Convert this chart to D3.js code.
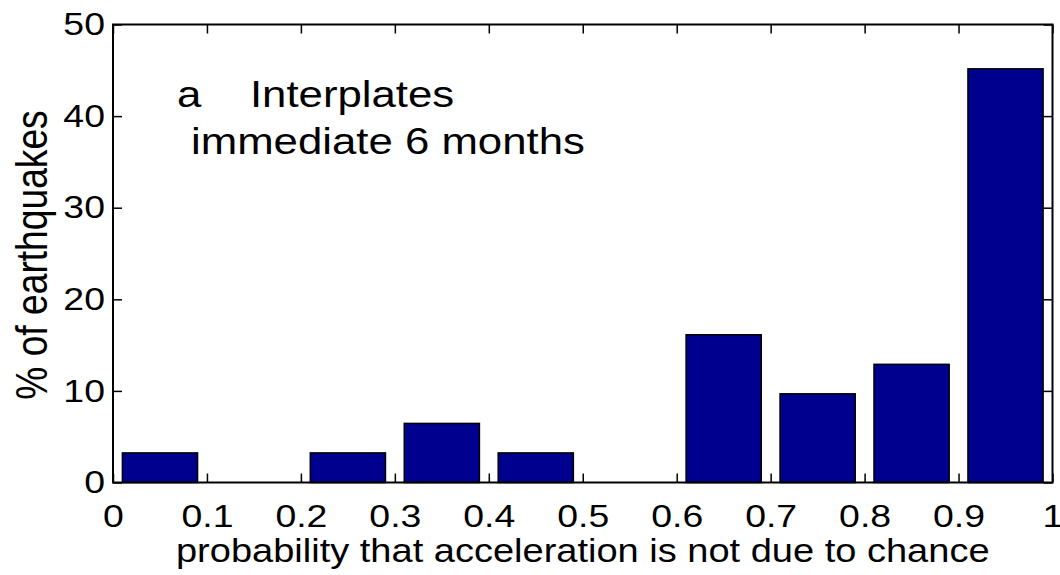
<!DOCTYPE html>
<html>
<head>
<meta charset="utf-8">
<script src="https://cdn.jsdelivr.net/npm/d3@7"></script>
<style>
  html, body { margin: 0; padding: 0; background: #fff; }
  svg { display: block; }
  text { font-family: "Liberation Sans", Arial, Helvetica, sans-serif; fill: #000; }
</style>
</head>
<body>
<svg id="chart" width="1060" height="575"></svg>
<script>
// Histogram bins (left edges) and percentage of earthquakes per bin
const binStarts = [0, 0.1, 0.2, 0.3, 0.4, 0.5, 0.6, 0.7, 0.8, 0.9];
const percents  = [3.23, 0, 3.23, 6.45, 3.23, 0, 16.13, 9.68, 12.90, 45.16];
const xTicks = [0, 0.1, 0.2, 0.3, 0.4, 0.5, 0.6, 0.7, 0.8, 0.9, 1];
const xTickLabels = ["0", "0.1", "0.2", "0.3", "0.4", "0.5", "0.6", "0.7", "0.8", "0.9", "1"];
const yTicks = [0, 10, 20, 30, 40, 50];
const yTickLabels = ["0", "10", "20", "30", "40", "50"];
const annotationLines = ["a    Interplates", "immediate 6 months"];
const xTitle = "probability that acceleration is not due to chance";
const yTitle = "% of earthquakes";

const binWidth = 0.1;
const barFrac = 0.8;

const svg = d3.select("#chart");
const plotLeft = 113, plotRight = 1052.5, plotTop = 24.5, plotBottom = 482.5;

const x = d3.scaleLinear().domain([0, 1]).range([plotLeft, plotRight]);
const y = d3.scaleLinear().domain([0, 50]).range([plotBottom, plotTop]);

const tickLen = 9;
const tickFont = 32;
const xTitleFont = 32.5;
const yTitleFont = 37.2;
const noteFont = 37.4;
const sx = 1.17;          // wide glyph aspect of the figure's typeface

// Bars
svg.append("g")
  .selectAll("rect")
  .data(binStarts.map((s, i) => ({ s, v: percents[i] })).filter(d => d.v > 0))
  .join("rect")
  .attr("x", d => x(d.s + binWidth * (1 - barFrac) / 2))
  .attr("width", d => x(d.s + binWidth * (1 + barFrac) / 2) - x(d.s + binWidth * (1 - barFrac) / 2))
  .attr("y", d => y(d.v))
  .attr("height", d => y(0) - y(d.v))
  .attr("fill", "#00008f")
  .attr("stroke", "#000")
  .attr("stroke-width", 1.5);

// Axes (ticks pointing inward, mirrored on top and right)
const axisStyle = g => {
  g.select(".domain").remove();
  g.selectAll(".tick line").attr("stroke", "#000").attr("stroke-width", 1.5);
};

svg.append("g")
  .attr("transform", `translate(0,${plotBottom})`)
  .call(d3.axisBottom(x).tickValues(xTicks).tickSize(-tickLen)
    .tickFormat((d, i) => xTickLabels[i]))
  .call(axisStyle)
  .call(g => g.selectAll(".tick text")
    .attr("font-size", tickFont)
    .attr("font-family", "Liberation Sans, Arial, sans-serif")
    .attr("y", 0).attr("dy", null)
    .attr("transform", `translate(0,${526.5 - plotBottom}) scale(${sx},1)`));

svg.append("g")
  .attr("transform", `translate(0,${plotTop})`)
  .call(d3.axisTop(x).tickValues(xTicks).tickSize(-tickLen).tickFormat(""))
  .call(axisStyle);

svg.append("g")
  .attr("transform", `translate(${plotLeft},0)`)
  .call(d3.axisLeft(y).tickValues(yTicks).tickSize(-tickLen)
    .tickFormat((d, i) => yTickLabels[i]))
  .call(axisStyle)
  .call(g => g.selectAll(".tick text")
    .attr("font-size", tickFont)
    .attr("font-family", "Liberation Sans, Arial, sans-serif")
    .attr("x", 0)
    .attr("transform", `translate(-8,0) scale(${sx},1)`));

svg.append("g")
  .attr("transform", `translate(${plotRight},0)`)
  .call(d3.axisRight(y).tickValues(yTicks).tickSize(-tickLen).tickFormat(""))
  .call(axisStyle);

// Frame
svg.append("rect")
  .attr("x", plotLeft).attr("y", plotTop)
  .attr("width", plotRight - plotLeft).attr("height", plotBottom - plotTop)
  .attr("fill", "none").attr("stroke", "#000").attr("stroke-width", 2);

// Annotation
svg.append("text")
  .attr("transform", `translate(177,106.5) scale(${sx},1)`)
  .attr("font-size", noteFont)
  .attr("xml:space", "preserve").style("white-space", "pre")
  .text(annotationLines[0]);
svg.append("text")
  .attr("transform", `translate(191,154) scale(${sx},1)`)
  .attr("font-size", noteFont)
  .text(annotationLines[1]);

// Axis titles
svg.append("text")
  .attr("transform", `translate(${(plotLeft + plotRight) / 2},562) scale(${sx},1)`)
  .attr("text-anchor", "middle").attr("font-size", xTitleFont)
  .text(xTitle);

svg.append("text")
  .attr("transform", `translate(47,${(plotTop + plotBottom) / 2 + 1.5}) scale(${sx},1) rotate(-90)`)
  .attr("text-anchor", "middle").attr("font-size", yTitleFont)
  .text(yTitle);
</script>
</body>
</html>
